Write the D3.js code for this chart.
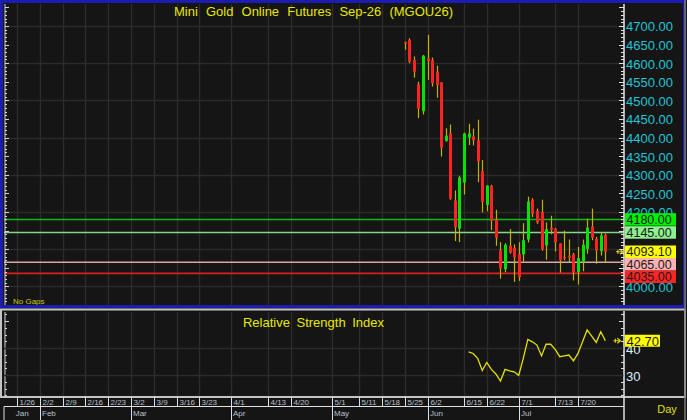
<!DOCTYPE html>
<html><head><meta charset="utf-8">
<script src="https://cdn.jsdelivr.net/npm/d3@7"></script>
<style>
html,body{margin:0;padding:0;background:#151515;}
svg{display:block;}
text{font-family:"Liberation Sans",Arial,sans-serif;}
</style></head>
<body>
<svg id="c" width="687" height="420"></svg>
<script>
// ---------- data ----------
const title = "Mini Gold Online Futures Sep-26 (MGOU26)";
const rsiTitle = "Relative Strength Index";
// trading-day index (0 = first candle, week of 5/25)
const candleIdx = d3.range(45);
const open  = [4657,4662,4608,4543,4471,4613,4608,4577,4548,4391,4411,4231,4155,4279,4400,4403,4393,4310,4219,4271,4179,4097,4046,4109,4104,4087,4086,4126,4233,4203,4200,4110,4158,4155,4115,4079,4083,4086,4038,4067,4101,4161,4128,4095,4139];
const high  = [4658,4667,4618,4550,4622,4676,4615,4593,4549,4425,4435,4258,4297,4413,4437,4424,4448,4340,4272,4273,4206,4119,4116,4154,4113,4119,4170,4241,4237,4209,4233,4172,4190,4157,4116,4150,4126,4090,4106,4126,4182,4209,4133,4146,4142];
const low   = [4636,4600,4561,4452,4462,4555,4537,4507,4349,4389,4233,4122,4119,4247,4380,4379,4280,4199,4202,4151,4109,4021,4038,4088,4012,4015,4067,4118,4186,4168,4096,4072,4140,4094,4037,4070,4065,4016,4005,4041,4088,4124,4061,4083,4065];
const close = [4653,4604,4577,4477,4620,4606,4546,4541,4373,4405,4236,4159,4293,4411,4411,4393,4336,4227,4271,4177,4131,4048,4112,4091,4078,4025,4124,4228,4195,4172,4100,4154,4152,4119,4070,4077,4077,4038,4076,4112,4158,4131,4097,4137,4093.1];
const rsiStart = 14;
const rsi = [38.6,38.0,36.2,31.7,34.7,32.1,30.4,27.8,32.1,31.6,31.2,29.9,36.2,43.2,42.3,41.1,37.1,41.4,41.4,39.5,36.8,37.1,37.4,35.3,38.0,42.3,46.7,44.4,42.1,46.0,42.7];
const levels = [4180, 4145, 4065, 4035];
const levelLine = ["#12b812", "#86d886", "#d8aaa2", "#d82020"];
const levelTag  = ["#00f000", "#8ef08e", null, "#ffb2b2", "#ff2424"];
const lastPrice = 4093.10;
const lastRsi = 42.70;
const priceTicks = d3.range(4000, 4701, 50);
const rsiTicks = [30, 40];
const weekLabels = ["1/26","2/2","2/9","2/16","2/23","3/2","3/9","3/16","3/23","4/1","4/13","4/20","5/1","5/11","5/18","5/25","6/2","6/15","6/22","7/1","7/13","7/20"];
const weekIdx = [-85,-80,-75,-70,-65,-60,-55,-50,-45,-38,-30,-25,-16,-10,-5,0,5,13,18,25,33,38];
const monthLabels = ["Jan","Feb","Mar","Apr","May","Jun","Jul"];
const monthIdx = [-88,-80,-60,-38,-16,5,25];

// ---------- layout ----------
const svg = d3.select("#c");
const L = 4, R = 623.5;
const x = d3.scaleLinear().domain([-88, 48]).range([3.4, 623.6]);
const y = d3.scaleLinear().domain([3950, 4759]).range([305, 4]);
const yr = d3.scaleLinear().domain([21.9, 53.7]).range([397, 311]);
const BG = "#151515", GRID = "#2b2b2b";

svg.append("rect").attr("width",687).attr("height",420).attr("fill",BG);

// grid top panel
const g1 = svg.append("g");
g1.selectAll("line.h").data(d3.range(4000,4701,100)).join("line")
  .attr("x1",L).attr("x2",R).attr("y1",d=>Math.round(y(d))+0.5).attr("y2",d=>Math.round(y(d))+0.5)
  .attr("stroke",GRID).attr("stroke-width",1.5);
g1.selectAll("line.v").data(weekIdx).join("line")
  .attr("x1",d=>Math.round(x(d))+0.5).attr("x2",d=>Math.round(x(d))+0.5).attr("y1",4).attr("y2",305)
  .attr("stroke",GRID).attr("stroke-width",1.5);

// level lines
levels.forEach((lv,i)=>{
  svg.append("line").attr("x1",L).attr("x2",R).attr("y1",y(lv)).attr("y2",y(lv))
    .attr("stroke",levelLine[i]).attr("stroke-width",1.6);
});

// candles
const cg = svg.append("g");
candleIdx.forEach(i=>{
  const cx = Math.round(x(i)) + 0.5;
  cg.append("line").attr("x1",cx).attr("x2",cx).attr("y1",y(high[i])).attr("y2",y(low[i]))
    .attr("stroke","#c4b000").attr("stroke-width",1.2);
  const up = close[i] >= open[i];
  const top = y(Math.max(open[i],close[i])), bot = y(Math.min(open[i],close[i]));
  cg.append("rect").attr("x",cx-1.5).attr("width",3).attr("y",top).attr("height",Math.max(1.5,bot-top))
    .attr("fill", up ? "#00e400" : "#ff2222");
});

// last price arrow
function arrow(px, py){
  svg.append("path").attr("d",`M${px-3},${py} H${px+4} M${px+1},${py-2.5} L${px+4},${py} L${px+1},${py+2.5} M${px-1},${py-2} V${py+2}`)
    .attr("stroke","#e0d000").attr("stroke-width",1.2).attr("fill","none");
}
arrow(x(45)+9, y(lastPrice));

// title
svg.append("text").attr("x",313.5).attr("y",16).attr("text-anchor","middle")
  .attr("font-size",13).attr("word-spacing",4.5).attr("fill","#e8e800").text(title);
svg.append("text").attr("x",13).attr("y",304).attr("font-size",8).attr("fill","#c8c800").text("No Gaps");

// tags (stacked so they don't overlap, like the reference)
const tagVals = [levels[0], levels[1], lastPrice, levels[2], levels[3]];
const TAG_H = 12.5;
const tagY = [];
tagVals.forEach((v,i)=>{
  let c = y(v);
  if (i>0 && c - tagY[i-1] < TAG_H) c = tagY[i-1] + TAG_H;
  tagY.push(c);
});

// right price axis
const ax = svg.append("g");
ax.append("line").attr("x1",624).attr("x2",624).attr("y1",4).attr("y2",305).attr("stroke","#e8e8e8").attr("stroke-width",1.5);
d3.range(3960,4751,10).forEach(v=>{
  const major = v % 50 === 0;
  ax.append("line").attr("x1",major?619:621).attr("x2",624).attr("y1",Math.round(y(v))+0.5).attr("y2",Math.round(y(v))+0.5)
    .attr("stroke","#e0e0e0").attr("stroke-width",1);
});
// left ruler
ax.append("line").attr("x1",5).attr("x2",5).attr("y1",4).attr("y2",305).attr("stroke","#d8d8d8").attr("stroke-width",1);
d3.range(3960,4751,10).forEach(v=>{
  const major = v % 50 === 0;
  ax.append("line").attr("x1",5).attr("x2",major?9:7).attr("y1",Math.round(y(v))+0.5).attr("y2",Math.round(y(v))+0.5)
    .attr("stroke","#d8d8d8").attr("stroke-width",1);
});
// labels hidden by tags are skipped (as in the reference)
const shownTicks = priceTicks.filter(v => d3.min(tagY, t => Math.abs(t - y(v))) > 6);
ax.selectAll("text.p").data(shownTicks).join("text")
  .attr("x",626).attr("y",d=>y(d)+5.5).attr("font-size",13).attr("fill","#22c4d6")
  .text(d=>d.toFixed(2));

tagVals.forEach((v,i)=>{
  const col = i===2 ? "#ffff00" : levelTag[i];
  const cy = tagY[i];
  svg.append("rect").attr("x",625).attr("y",cy-TAG_H/2).attr("width",51).attr("height",TAG_H).attr("fill",col);
  svg.append("text").attr("x",626.5).attr("y",cy+4.6).attr("font-size",12.5).attr("fill","#1a1a1a").text(v.toFixed(2));
});

// top panel frame
svg.append("rect").attr("x",1.5).attr("y",1.5).attr("width",683).attr("height",305).attr("fill","none")
  .attr("stroke","#1c1cb0").attr("stroke-width",3);

// ---------- RSI panel ----------
const g2 = svg.append("g");
g2.selectAll("line.v").data(weekIdx).join("line")
  .attr("x1",d=>Math.round(x(d))+0.5).attr("x2",d=>Math.round(x(d))+0.5).attr("y1",312).attr("y2",396)
  .attr("stroke",GRID).attr("stroke-width",1.5);
g2.selectAll("line.h").data(rsiTicks).join("line")
  .attr("x1",L).attr("x2",R).attr("y1",d=>Math.round(yr(d))+0.5).attr("y2",d=>Math.round(yr(d))+0.5)
  .attr("stroke",GRID).attr("stroke-width",1.5);
svg.append("text").attr("x",313.5).attr("y",327).attr("text-anchor","middle")
  .attr("font-size",13).attr("word-spacing",3).attr("fill","#e8e800").text(rsiTitle);
const rsiLine = d3.line().x((d,i)=>x(i+rsiStart)).y(d=>yr(d));
svg.append("path").attr("d",rsiLine(rsi)).attr("fill","none").attr("stroke","#e2e200").attr("stroke-width",1.3);
arrow(x(44)+11, yr(lastRsi));
ax.append("line").attr("x1",624).attr("x2",624).attr("y1",311).attr("y2",397).attr("stroke","#e8e8e8").attr("stroke-width",1.5);
d3.range(22.5,53.6,2.5).forEach(v=>{
  const major = v % 10 === 0;
  ax.append("line").attr("x1",major?619:621).attr("x2",624).attr("y1",Math.round(yr(v))+0.5).attr("y2",Math.round(yr(v))+0.5)
    .attr("stroke","#e0e0e0").attr("stroke-width",1);
  ax.append("line").attr("x1",5).attr("x2",major?9:7).attr("y1",Math.round(yr(v))+0.5).attr("y2",Math.round(yr(v))+0.5)
    .attr("stroke","#d8d8d8").attr("stroke-width",1);
});
ax.append("line").attr("x1",5).attr("x2",5).attr("y1",312).attr("y2",396).attr("stroke","#d8d8d8");
svg.selectAll("text.r").data(rsiTicks).join("text")
  .attr("x",626).attr("y",d=>yr(d)+5.5).attr("font-size",13).attr("fill","#dfeeff").text(d=>d);
svg.append("rect").attr("x",625).attr("y",yr(lastRsi)-6).attr("width",35).attr("height",12).attr("fill","#ffff00");
svg.append("text").attr("x",626.5).attr("y",yr(lastRsi)+5).attr("font-size",13).attr("fill","#1a1a1a").text(lastRsi.toFixed(2));
svg.append("rect").attr("x",1).attr("y",309.5).attr("width",684).attr("height",87.5).attr("fill","none")
  .attr("stroke","#c4c4c4").attr("stroke-width",2);

// ---------- date axis ----------
const da = svg.append("g");
da.append("line").attr("x1",4).attr("x2",624).attr("y1",406.5).attr("y2",406.5).attr("stroke","#e0e0e0");
da.append("line").attr("x1",624).attr("x2",624).attr("y1",397).attr("y2",420).attr("stroke","#e0e0e0").attr("stroke-width",1.5);
weekIdx.forEach((d,i)=>{
  const px = Math.round(x(d))+0.5;
  da.append("line").attr("x1",px).attr("x2",px).attr("y1",398).attr("y2",406.5).attr("stroke","#e0e0e0");
  da.append("text").attr("x",px+2).attr("y",404.5).attr("font-size",8).attr("fill","#b8c0cc").text(weekLabels[i]);
});
monthIdx.forEach((d,i)=>{
  const px = Math.max(4, Math.round(x(d))+0.5);
  da.append("line").attr("x1",px).attr("x2",px).attr("y1",406.5).attr("y2",420).attr("stroke","#e0e0e0");
  if(i===0){
    const nx = Math.round(x(monthIdx[1]))+0.5;
    da.append("text").attr("x",(px+nx)/2).attr("y",416).attr("text-anchor","middle").attr("font-size",8).attr("fill","#b8c0cc").text(monthLabels[i]);
  } else {
    da.append("text").attr("x",px+1.5).attr("y",416).attr("font-size",8).attr("fill","#b8c0cc").text(monthLabels[i]);
  }
});
svg.append("text").attr("x",667).attr("y",413).attr("text-anchor","middle").attr("font-size",11).attr("fill","#e0e000").text("Day");
svg.append("line").attr("x1",685).attr("x2",685).attr("y1",0).attr("y2",420).attr("stroke","#7a7a7a").attr("stroke-width",1.5);
</script>
</body></html>
